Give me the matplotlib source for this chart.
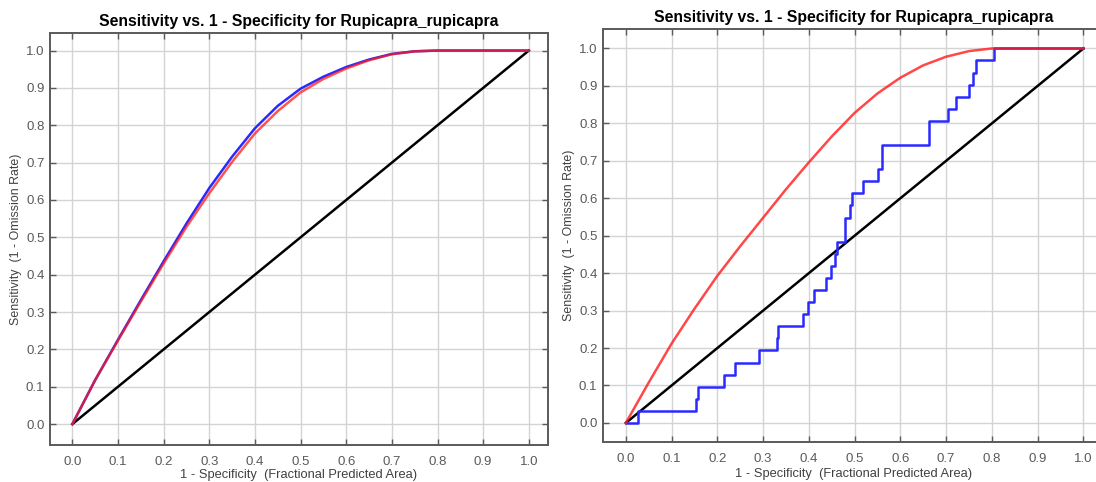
import matplotlib
matplotlib.use("Agg")
import matplotlib.pyplot as plt
import numpy as np

plt.rcParams['font.family'] = ['Liberation Sans', 'DejaVu Sans']

title_text = "Sensitivity vs. 1 - Specificity for Rupicapra_rupicapra"
xlabel_text = "1 - Specificity  (Fractional Predicted Area)"
ylabel_text = "Sensitivity  (1 - Omission Rate)"
tick_vals = [0.0, 0.1, 0.2, 0.3, 0.4, 0.5, 0.6, 0.7, 0.8, 0.9, 1.0]
tick_labels = ["0.0", "0.1", "0.2", "0.3", "0.4", "0.5", "0.6", "0.7", "0.8", "0.9", "1.0"]

# Left panel: training (red) and test (blue) ROC curves
left_train_fpr = [0.0, 0.05, 0.10, 0.15, 0.20, 0.25, 0.30, 0.35, 0.40, 0.45, 0.50, 0.55, 0.60, 0.65, 0.70, 0.75, 0.80, 1.0]
left_train_tpr = [0.0, 0.118, 0.224, 0.328, 0.430, 0.528, 0.618, 0.702, 0.778, 0.838, 0.888, 0.924, 0.952, 0.974, 0.990, 0.998, 1.0, 1.0]
left_test_fpr = [0.0, 0.05, 0.10, 0.15, 0.20, 0.25, 0.30, 0.35, 0.40, 0.45, 0.50, 0.55, 0.60, 0.65, 0.70, 0.75, 0.80, 1.0]
left_test_tpr = [0.0, 0.118, 0.226, 0.332, 0.436, 0.537, 0.632, 0.716, 0.792, 0.852, 0.898, 0.930, 0.956, 0.976, 0.991, 0.998, 1.0, 1.0]

# Right panel: training (red) curve and stepwise test (blue) curve
right_train_fpr = [0.0, 0.05, 0.10, 0.15, 0.20, 0.25, 0.30, 0.35, 0.40, 0.45, 0.50, 0.55, 0.60, 0.65, 0.70, 0.75, 0.80, 1.0]
right_train_tpr = [0.0, 0.108, 0.212, 0.305, 0.393, 0.472, 0.548, 0.624, 0.696, 0.765, 0.828, 0.880, 0.922, 0.955, 0.978, 0.993, 1.0, 1.0]
right_test_fpr = [0.0, 0.027, 0.153, 0.157, 0.214, 0.238, 0.290, 0.330, 0.333, 0.387, 0.398, 0.412, 0.438,
                  0.449, 0.456, 0.462, 0.478, 0.478, 0.490, 0.495, 0.518, 0.551, 0.560, 0.560, 0.662,
                  0.662, 0.704, 0.722, 0.751, 0.758, 0.765, 0.805, 1.0]
right_test_tpr = [0.0, 0.032, 0.065, 0.097, 0.129, 0.161, 0.194, 0.226, 0.258, 0.290, 0.323, 0.355, 0.387,
                  0.419, 0.452, 0.484, 0.516, 0.548, 0.581, 0.613, 0.645, 0.677, 0.710, 0.742, 0.774,
                  0.806, 0.839, 0.871, 0.903, 0.935, 0.968, 1.000, 1.0]
random_x = [0.0, 1.0]
random_y = [0.0, 1.0]

W, H = 1096, 482
fig = plt.figure(figsize=(W / 100, H / 100), dpi=100)

RED = '#ff1a1a'
BLUE = '#2a2aff'
FRAME = '#5a5a5a'
TICKC = '#5a5a5a'

def setup(ax, xlabelpad):
    ax.set_xlim(-0.049, 1.042)
    ax.set_ylim(-0.056, 1.047)
    ax.set_xticks(tick_vals)
    ax.set_xticklabels(tick_labels)
    ax.set_yticks(tick_vals)
    ax.set_yticklabels(tick_labels)
    ax.grid(True, color='#d4d4d4', linewidth=1.0)
    ax.set_axisbelow(True)
    ax.tick_params(direction='in', length=4, width=1, color=FRAME, top=True, right=True,
                   labelsize=9.5, labelcolor=TICKC)
    ax.tick_params(axis='x', pad=8)
    ax.tick_params(axis='y', pad=4)
    for s in ax.spines.values():
        s.set_color(FRAME)
        s.set_linewidth(1.4)
    ax.set_title(title_text, fontsize=11.3, fontweight='bold', pad=5)
    ax.set_xlabel(xlabel_text, fontsize=9.3, color='#404040', labelpad=xlabelpad)
    ax.set_ylabel(ylabel_text, fontsize=8.9, color='#404040', labelpad=3)

ax1 = fig.add_axes([50 / W, 1 - 445 / H, 498 / W, 412 / H])
setup(ax1, 0.5)
ax1.plot(random_x, random_y, color='black', lw=1.8, zorder=3)
ax1.plot(left_test_fpr, left_test_tpr, color=BLUE, lw=1.8, zorder=4)
ax1.plot(left_train_fpr, left_train_tpr, color=RED, lw=1.8, alpha=0.75, zorder=5)

ax2 = fig.add_axes([603 / W, 1 - 442 / H, 501 / W, 413 / H])
setup(ax2, 2)
ax2.set_xlim(-0.050, 1.045)
ax2.set_ylim(-0.051, 1.052)
ax2.plot(random_x, random_y, color='black', lw=1.8, zorder=3)
ax2.plot(right_test_fpr, right_test_tpr, color=BLUE, lw=1.8, drawstyle='steps-post', zorder=4)
ax2.plot(right_train_fpr, right_train_tpr, color=RED, lw=1.8, alpha=0.8, zorder=5)

fig.savefig('out.png', dpi=100)
